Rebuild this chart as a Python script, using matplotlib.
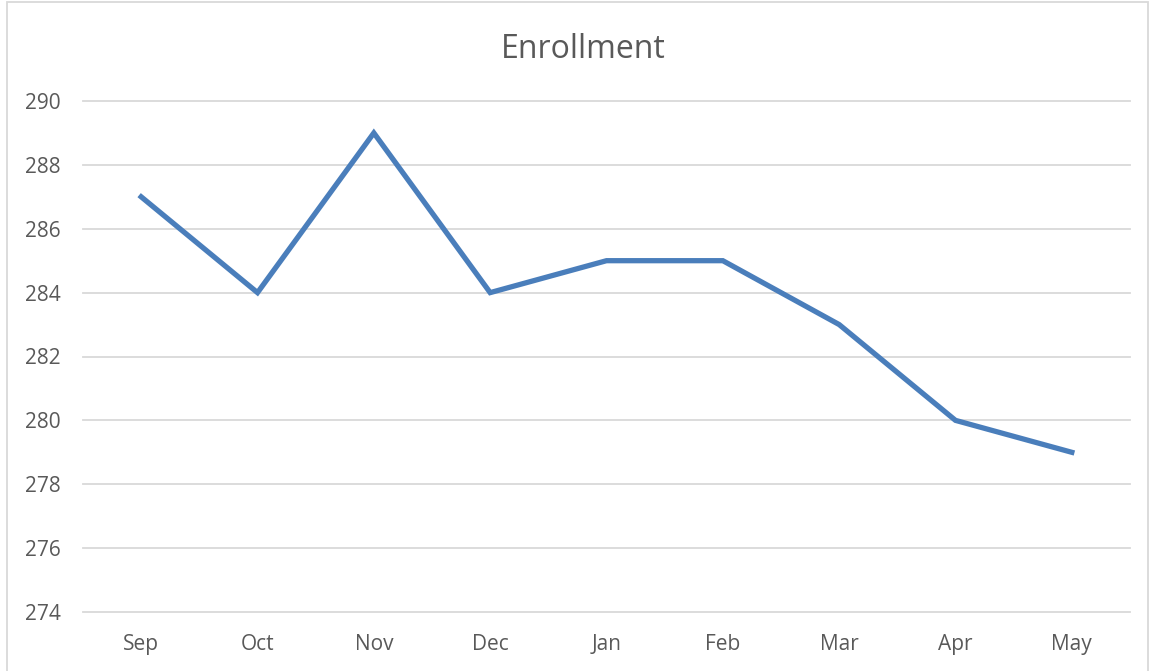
import matplotlib
matplotlib.use("Agg")
import matplotlib.pyplot as plt
from matplotlib.patches import Rectangle

# Dane z wykresu
months = ["Sep", "Oct", "Nov", "Dec", "Jan", "Feb", "Mar", "Apr", "May"]
enrollment = [287, 284, 289, 284, 285, 285, 283, 280, 279]
y_ticks = [274, 276, 278, 280, 282, 284, 286, 288, 290]

plt.rcParams['font.family'] = ['Open Sans', 'DejaVu Sans']

fig = plt.figure(figsize=(11.5, 6.71), dpi=100)
ax = fig.add_axes([83 / 1150, 1 - 612 / 671, 1047 / 1150, 511 / 671])

x = list(range(len(months)))
ax.plot(x, enrollment, color="#4A7EBB", linewidth=3.8, solid_joinstyle="miter", zorder=3)

ax.set_xlim(-0.5, len(months) - 0.5)
ax.set_ylim(274, 290)
ax.set_yticks(y_ticks)
ax.set_xticks(x)
ax.set_xticklabels(months)

# Siatka pozioma (bez przycinania skrajnych linii)
for yv in y_ticks:
    ax.axhline(yv, color="#D9D9D9", linewidth=1.3, zorder=1, clip_on=False)
for s in ax.spines.values():
    s.set_visible(False)
ax.tick_params(length=0, labelsize=15, colors="#595959")
ax.tick_params(axis="x", pad=16)
ax.tick_params(axis="y", pad=16)

fig.text(583 / 1150, 1 - 49 / 671, "Enrollment", ha="center", va="center",
         fontsize=23, color="#595959")

# Ramka wykresu
fig.patches.append(Rectangle((7 / 1150, -0.01), 1141 / 1150, 1 - 2 / 671 + 0.01,
                             transform=fig.transFigure, fill=False,
                             edgecolor="#D9D9D9", linewidth=1.3))

fig.savefig("out.png", dpi=100)
